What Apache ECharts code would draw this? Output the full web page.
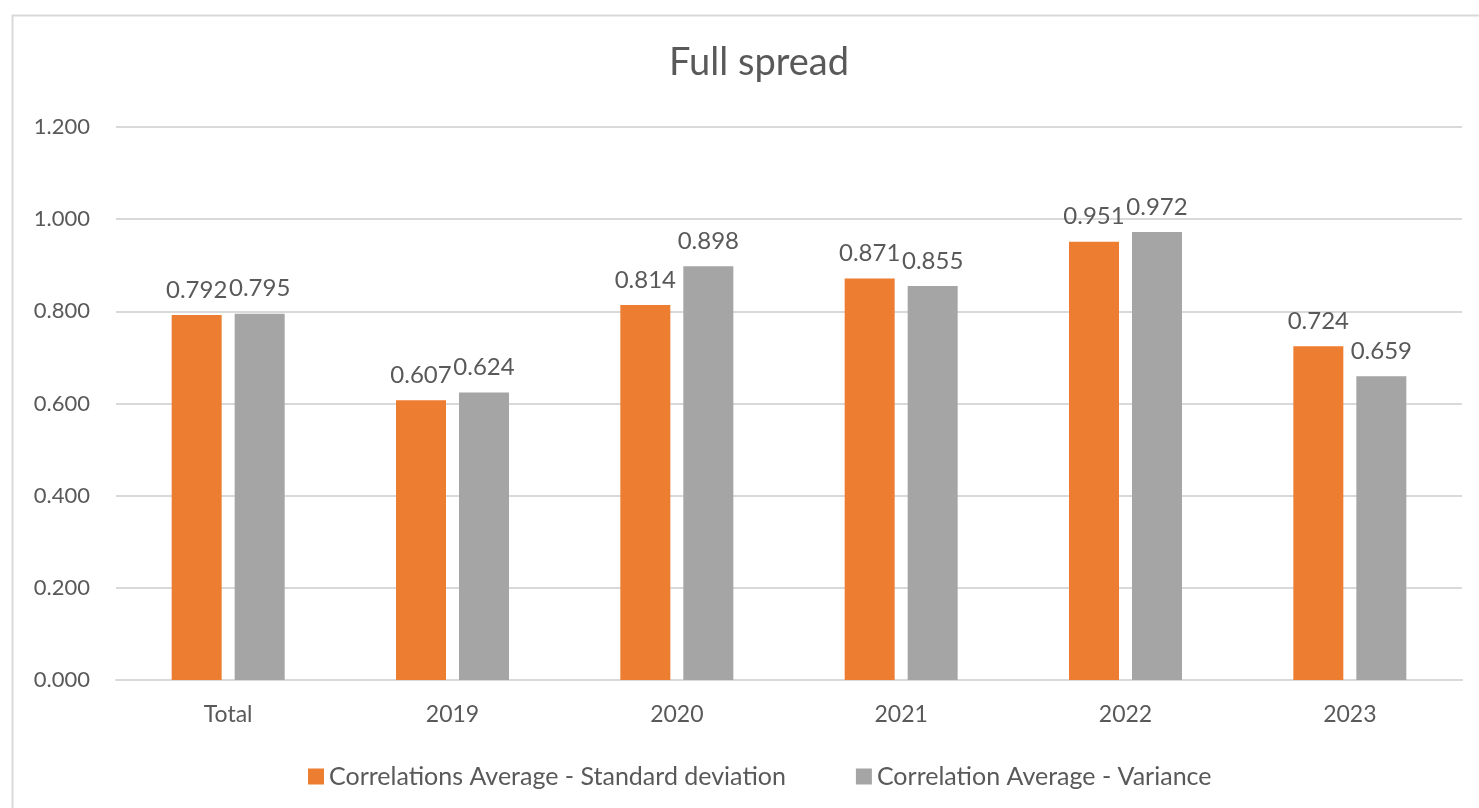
<!DOCTYPE html>
<html>
<head>
<meta charset="utf-8">
<script src="https://cdn.jsdelivr.net/npm/echarts@6/dist/echarts.min.js"></script>
<style>
  html, body { margin: 0; padding: 0; background: #ffffff; }
  #chart { width: 1479px; height: 808px; }
</style>
</head>
<body>
<div id="chart"></div>
<script>
// Chart data
const categories = ['Total', '2019', '2020', '2021', '2022', '2023'];
const stdDevValues = [0.792, 0.607, 0.814, 0.871, 0.951, 0.724];
const varianceValues = [0.795, 0.624, 0.898, 0.855, 0.972, 0.659];
const seriesNames = ['Correlations Average - Standard deviation', 'Correlation Average - Variance'];
const titleText = 'Full spread';

const FONT = 'Lato';
const TEXT = '#595959';

const chart = echarts.init(document.getElementById('chart'), null, { renderer: 'canvas' });

const labelStyle = {
  show: true,
  position: 'top',
  distance: 13,
  color: TEXT,
  fontFamily: FONT,
  fontSize: 24,
  formatter: p => p.value.toFixed(3)
};

chart.setOption({
  backgroundColor: '#ffffff',
  animation: false,
  graphic: [{
    type: 'rect',
    left: 10,
    top: 13,
    shape: { width: 1480, height: 800 },
    style: { fill: 'none', stroke: '#D9D9D9', lineWidth: 2 },
    silent: true
  }],
  title: {
    text: titleText,
    left: 754,
    textAlign: 'center',
    top: 39,
    textStyle: { color: TEXT, fontFamily: FONT, fontSize: 38, fontWeight: 'normal' }
  },
  legend: {
    data: seriesNames,
    bottom: 19,
    left: 308,
    padding: 0,
    itemWidth: 16,
    itemHeight: 16,
    itemGap: 70,
    icon: 'rect',
    textStyle: { color: TEXT, fontFamily: FONT, fontSize: 25 }
  },
  grid: { left: 116, right: 17, top: 127, bottom: 128, containLabel: false },
  xAxis: {
    type: 'category',
    data: categories,
    axisLine: { lineStyle: { color: '#D9D9D9', width: 2 } },
    axisTick: { show: false },
    axisLabel: { color: TEXT, fontFamily: FONT, fontSize: 23, margin: 23 }
  },
  yAxis: {
    type: 'value',
    min: 0,
    max: 1.2,
    interval: 0.2,
    axisLine: { show: false },
    axisTick: { show: false },
    axisLabel: {
      color: TEXT, fontFamily: FONT, fontSize: 22, margin: 26,
      formatter: v => v.toFixed(3)
    },
    splitLine: { lineStyle: { color: '#D9D9D9', width: 2 } }
  },
  series: [
    {
      name: seriesNames[0],
      type: 'bar',
      data: stdDevValues,
      barWidth: 50,
      barGap: '26%',
      itemStyle: { color: '#ED7D31' },
      label: labelStyle
    },
    {
      name: seriesNames[1],
      type: 'bar',
      data: varianceValues,
      barWidth: 50,
      barGap: '26%',
      itemStyle: { color: '#A5A5A5' },
      label: labelStyle
    }
  ]
});
</script>
</body>
</html>
